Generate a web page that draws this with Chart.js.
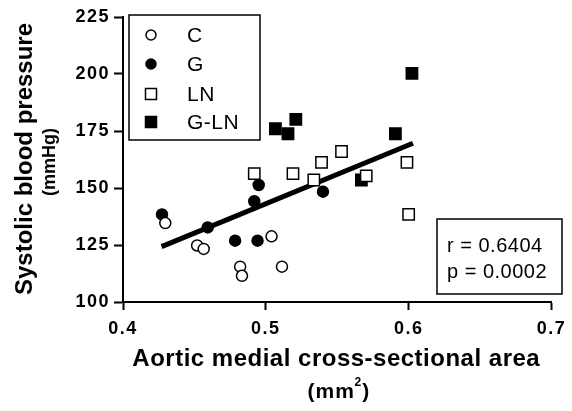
<!DOCTYPE html>
<html>
<head>
<meta charset="utf-8">
<script src="https://cdn.jsdelivr.net/npm/chart.js@4/dist/chart.umd.min.js"></script>
<style>
  html, body { margin: 0; padding: 0; background: #fff; }
  #wrap { width: 572px; height: 411px; }
</style>
</head>
<body>
<div id="wrap"><canvas id="chart"></canvas></div>
<script>
// group C (open circles)
const cX = [0.4296, 0.4519, 0.4565, 0.482, 0.4833, 0.504, 0.5113];
const cY = [134.6, 124.8, 123.3, 115.5, 111.5, 128.8, 115.5];
// group G (filled circles)
const gX = [0.4273, 0.4593, 0.4785, 0.4919, 0.4942, 0.495, 0.540];
const gY = [138.4, 132.7, 126.9, 144.2, 126.9, 151.3, 148.4];
// group LN (open squares)
const lnX = [0.4919, 0.519, 0.5336, 0.539, 0.553, 0.5703, 0.5988, 0.600];
const lnY = [156.3, 156.3, 153.5, 161.2, 166.0, 155.3, 161.2, 138.4];
// group G-LN (filled squares)
const glnX = [0.5067, 0.5155, 0.521, 0.5669, 0.5907, 0.6023];
const glnY = [176.0, 173.8, 180.1, 153.5, 173.8, 200.3];
// regression line end points
const fitX = [0.427, 0.603];
const fitY = [124.3, 169.6];

const xTicks = [0.4, 0.5, 0.6, 0.7];
const yTicks = [100, 125, 150, 175, 200, 225];
const statLines = ['r = 0.6404', 'p = 0.0002'];

const FONT = '"Liberation Sans", Arial, Helvetica, sans-serif';
const pts = (xs, ys) => xs.map((x, i) => ({ x: x, y: ys[i] }));

Chart.defaults.font.family = FONT;
Chart.defaults.color = '#000';

const groups = [
    { label: 'C', data: pts(cX, cY), pointStyle: 'circle', pointRadius: 5.5, fill: '#fff' },
    { label: 'G', data: pts(gX, gY), pointStyle: 'circle', pointRadius: 5.5, fill: '#000' },
    { label: 'LN', data: pts(lnX, lnY), pointStyle: 'rect', pointRadius: 8, fill: '#fff' },
    { label: 'G-LN', data: pts(glnX, glnY), pointStyle: 'rect', pointRadius: 8, fill: '#000' }
];

// tick labels in the scan are spaced out a little
const wideTicks = {
    id: 'wideTicks',
    beforeDraw: function (chart) { chart.ctx.letterSpacing = '1.5px'; },
    afterDraw: function (chart) { chart.ctx.letterSpacing = '0px'; }
};

// draws axis titles, legend box and stats box
const decorations = {
    id: 'decorations',
    afterDraw: function (chart) {
        const ctx = chart.ctx;
        const area = chart.chartArea;
        ctx.save();
        ctx.fillStyle = '#000';
        ctx.strokeStyle = '#000';
        ctx.letterSpacing = '0px';

        // y title
        ctx.save();
        ctx.translate(25, 159);
        ctx.rotate(-Math.PI / 2);
        ctx.textAlign = 'center';
        ctx.textBaseline = 'middle';
        ctx.font = 'bold 24px ' + FONT;
        ctx.fillText('Systolic blood pressure', 0, 0);
        ctx.font = 'bold 18px ' + FONT;
        ctx.fillText('(mmHg)', -3, 25);
        ctx.restore();

        // x title
        const cx = (area.left + area.right) / 2;
        ctx.textAlign = 'center';
        ctx.textBaseline = 'middle';
        ctx.font = 'bold 24px ' + FONT;
        ctx.letterSpacing = '0.5px';
        ctx.fillText('Aortic medial cross-sectional area', cx - 1, 359);
        ctx.font = 'bold 21px ' + FONT;
        ctx.letterSpacing = '1px';
        ctx.fillText('(mm', cx - 6, 392);
        ctx.font = 'bold 12px ' + FONT;
        ctx.fillText('2', cx + 21, 383);
        ctx.font = 'bold 21px ' + FONT;
        ctx.fillText(')', cx + 29, 392);

        // legend box
        ctx.lineWidth = 1.5;
        ctx.strokeRect(129, 15, 131, 125);
        ctx.font = '21px ' + FONT;
        ctx.letterSpacing = '0.5px';
        ctx.textAlign = 'left';
        const rows = [35, 64, 94, 122];
        chart.data.datasets.slice(0, 4).forEach((ds, i) => {
            const y = rows[i];
            ctx.lineWidth = 1.5;
            ctx.fillStyle = ds.backgroundColor;
            ctx.strokeStyle = '#000';
            ctx.beginPath();
            if (ds.pointStyle === 'circle') {
                ctx.arc(151, y, 5, 0, Math.PI * 2);
            } else {
                ctx.rect(145.5, y - 5.5, 11, 11);
            }
            ctx.fill();
            ctx.stroke();
            ctx.fillStyle = '#000';
            ctx.fillText(ds.label, 187, y + 1);
        });

        // stats box
        ctx.lineWidth = 1.5;
        ctx.strokeRect(437, 219, 125, 75);
        ctx.font = '20px ' + FONT;
        ctx.fillText(statLines[0], 447, 246);
        ctx.fillText(statLines[1], 447, 272);
        ctx.restore();
    }
};

const datasets = groups.map(g => ({
    type: 'scatter',
    label: g.label,
    data: g.data,
    pointStyle: g.pointStyle,
    pointRadius: g.pointRadius,
    pointHoverRadius: g.pointRadius,
    pointBorderWidth: 1.5,
    borderColor: '#000',
    backgroundColor: g.fill
}));

datasets.push({
    type: 'line',
    label: 'fit',
    data: pts(fitX, fitY),
    borderColor: '#000',
    borderWidth: 5,
    pointRadius: 0,
    borderCapStyle: 'butt',
    fill: false
});

const tickFont = { family: FONT, size: 18, weight: 'bold' };

new Chart(document.getElementById('chart'), {
    type: 'scatter',
    data: { datasets: datasets },
    plugins: [wideTicks, decorations],
    options: {
        responsive: true,
        maintainAspectRatio: false,
        animation: false,
        events: [],
        layout: { padding: { top: 17, right: 16, left: 0, bottom: 0 } },
        plugins: {
            legend: { display: false },
            tooltip: { enabled: false }
        },
        scales: {
            x: {
                type: 'linear',
                position: 'bottom',
                min: 0.4,
                max: 0.7,
                afterFit: s => { s.height = 109; },
                afterBuildTicks: s => { s.ticks = xTicks.map(v => ({ value: v })); },
                grid: { drawOnChartArea: false, tickLength: 8, tickWidth: 2, color: '#000' },
                border: { display: true, color: '#000', width: 2 },
                ticks: {
                    color: '#000',
                    padding: 8,
                    font: tickFont,
                    callback: v => v.toFixed(1)
                }
            },
            y: {
                type: 'linear',
                position: 'left',
                min: 100,
                max: 225,
                afterFit: s => { s.width = 123; },
                afterBuildTicks: s => { s.ticks = yTicks.map(v => ({ value: v })); },
                grid: { drawOnChartArea: false, tickLength: 9, tickWidth: 2, color: '#000' },
                border: { display: true, color: '#000', width: 2 },
                ticks: {
                    color: '#000',
                    padding: 4,
                    font: tickFont
                }
            }
        }
    }
});
</script>
</body>
</html>
